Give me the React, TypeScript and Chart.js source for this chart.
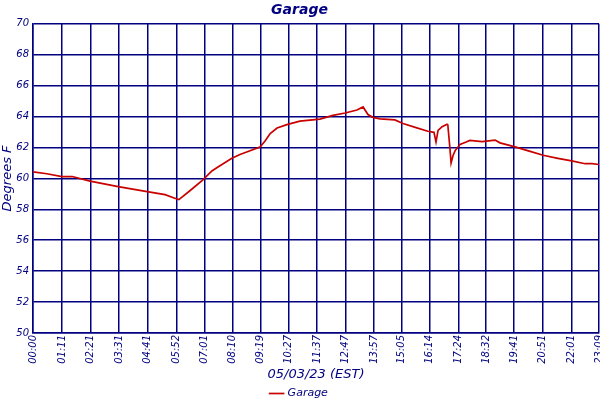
import React, { useEffect, useRef } from "react";
import { Chart, registerables } from "chart.js";

Chart.register(...registerables);

// minutes since 00:00
const minutes = [
  0, 34, 71, 96, 140, 209, 280, 324, 348, 358, 385, 417, 439, 452, 488, 508, 557, 569, 582, 599,
  623, 655, 704, 736, 766, 795, 810, 822, 834, 852, 888, 908, 942, 969, 984, 989, 994, 1004, 1016,
  1018, 1023, 1026, 1031, 1036, 1048, 1063, 1072, 1102, 1134, 1146, 1183, 1220, 1252, 1288, 1322,
  1355, 1372, 1389,
];
const temps = [
  60.42, 60.3, 60.12, 60.12, 59.82, 59.47, 59.15, 58.95, 58.72, 58.63, 59.2, 59.9, 60.48, 60.7,
  61.3, 61.55, 62.03, 62.4, 62.9, 63.26, 63.48, 63.7, 63.83, 64.08, 64.23, 64.42, 64.62, 64.13,
  63.95, 63.85, 63.78, 63.55, 63.27, 63.05, 62.98, 62.35, 63.1, 63.35, 63.5, 63.45, 62.0, 61.0,
  61.5, 61.8, 62.2, 62.35, 62.46, 62.38, 62.48, 62.3, 62.04, 61.75, 61.5, 61.3, 61.13, 60.95,
  60.95, 60.9,
];
const tickLabels = [
  "00:00", "01:11", "02:21", "03:31", "04:41", "05:52", "07:01", "08:10", "09:19", "10:27",
  "11:37", "12:47", "13:57", "15:05", "16:14", "17:24", "18:32", "19:41", "20:51", "22:01", "23:09",
];
const tickMinutes = [
  0, 71, 141, 211, 281, 352, 421, 490, 559, 627, 697, 767, 837, 905, 974, 1044, 1112, 1181, 1251,
  1321, 1389,
];
const seriesName = "Garage";
const titleText = "Garage";
const xTitle = "05/03/23 (EST)";
const yTitle = "Degrees F";

const NAVY = "#000080";
const FONT = "'DejaVu Sans', Verdana, sans-serif";

const legendFix = {
  id: "legendFix",
  beforeLayout(chart: any) {
    const lg = chart.legend;
    if (lg && !lg.__patched) {
      const orig = lg.fit;
      lg.fit = function () {
        orig.call(this);
        this.height = 12;
      };
      lg.__patched = true;
    }
  },
};

export default function App() {
  const ref = useRef<HTMLCanvasElement | null>(null);
  useEffect(() => {
    if (!ref.current) return;
    const chart = new Chart(ref.current, {
      type: "line",
      data: {
        datasets: [
          {
            label: seriesName,
            data: minutes.map((m, i) => ({ x: m, y: temps[i] })),
            borderColor: "#c80000",
            backgroundColor: "#c80000",
            borderWidth: 1.7,
            pointRadius: 0,
            tension: 0,
          },
        ],
      },
      plugins: [legendFix],
      options: {
        animation: false,
        responsive: false,
        maintainAspectRatio: false,
        layout: { padding: { left: 0, right: 1, top: 0, bottom: 0 } },
        plugins: {
          title: {
            display: true,
            text: titleText,
            color: NAVY,
            font: { family: FONT, size: 14, weight: "bold", style: "italic" },
            padding: { top: 2, bottom: 5 },
          },
          legend: {
            position: "bottom",
            labels: {
              usePointStyle: true,
              pointStyle: "line",
              boxWidth: 12,
              color: NAVY,
              font: { family: FONT, size: 11, style: "italic" },
              padding: 0,
            },
          },
          tooltip: { enabled: false },
        },
        scales: {
          x: {
            type: "linear",
            min: 0,
            max: 1389,
            afterBuildTicks: (scale: any) => {
              scale.ticks = tickMinutes.map((v) => ({ value: v }));
            },
            afterFit: (scale: any) => {
              scale.height = 55;
              scale.paddingLeft = 0;
              scale.paddingRight = 0;
            },
            ticks: {
              autoSkip: false,
              maxRotation: 90,
              minRotation: 90,
              padding: 2,
              color: NAVY,
              font: { family: FONT, size: 10, style: "italic" },
              callback: (v: any) => {
                const i = tickMinutes.indexOf(Number(v));
                return i >= 0 ? tickLabels[i] : "";
              },
            },
            grid: { color: NAVY, lineWidth: 1.5, drawTicks: false },
            border: { color: NAVY, width: 1.5 },
            title: {
              display: true,
              text: xTitle,
              color: NAVY,
              font: { family: FONT, size: 13, style: "italic" },
              padding: { top: 0, bottom: 6 },
            },
          },
          y: {
            min: 50,
            max: 70,
            afterFit: (scale: any) => {
              scale.width = 33;
            },
            ticks: {
              stepSize: 2,
              padding: 4,
              color: NAVY,
              font: { family: FONT, size: 10, style: "italic" },
            },
            grid: { color: NAVY, lineWidth: 1.5, drawTicks: false },
            border: { color: NAVY, width: 1.5 },
            title: {
              display: true,
              text: yTitle,
              color: NAVY,
              font: { family: FONT, size: 13, style: "italic" },
              padding: 0,
            },
          },
        },
      },
    });
    return () => chart.destroy();
  }, []);
  return (
    <div style={{ position: "fixed", left: 0, top: 0, width: 600, height: 400, background: "#fff" }}>
      <canvas ref={ref} width={600} height={400} style={{ width: 600, height: 400 }} />
    </div>
  );
}
